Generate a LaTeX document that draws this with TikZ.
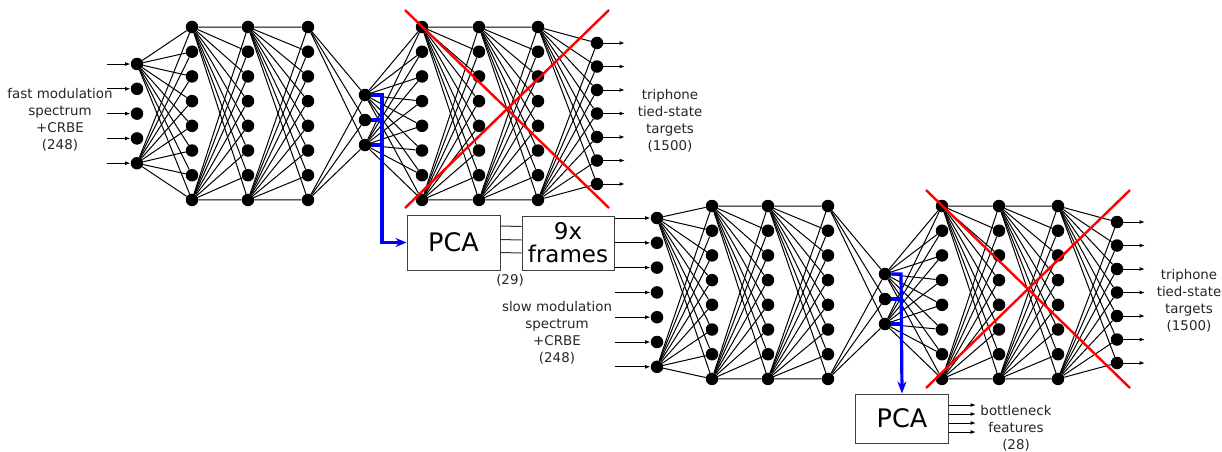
\documentclass[tikz,border=0pt]{standalone}
\usepackage{fontspec}
\setmainfont{DejaVu Sans}
\usetikzlibrary{arrows.meta}

% one network: prefix, number of inputs, y of the first input
\newcommand{\mlp}[3]{%
	\foreach \x/\n/\y/\d [count=\l] in {137/#2/#3/24.8, 192/8/27/24.7, 248/8/27/24.7, 308/8/27/24.7, 365/3/95/25, 422/8/27/24.7, 479/8/27/24.7, 538/8/27/24.7, 597/7/43/23.5}
		\foreach \i in {1,...,\n}
			\node[unit] (#1-\l-\i) at (\x,{\y+(\i-1)*\d}) {};
	% top and bottom unit of a layer feed every unit of the next one
	\foreach \l/\a/\b [evaluate=\l as \m using int(\l+1)] in {1/#2/8, 2/8/8, 3/8/8, 4/8/3, 5/3/8, 6/8/8, 7/8/8, 8/8/7}
		\foreach \j in {1,...,\b}
			\draw[link] (#1-\l-1) -- (#1-\m-\j) (#1-\l-\a) -- (#1-\m-\j);
	\foreach \i in {1,...,7}
		\draw[io] (#1-9-\i) -- ++(28,0);
}

\begin{document}
\begin{tikzpicture}[x=1pt,y=-1pt,
		unit/.style={circle,fill=black,inner sep=0pt,minimum size=12.5pt},
		link/.style={line width=1pt},
		io/.style={->,line width=1pt,>={Latex[length=5.5pt,width=4pt]}},
		box/.style={rectangle,draw=black!75,line width=1pt,inner sep=0pt,align=center,font=\fontsize{25.5}{24}\selectfont},
		lbl/.style={align=center,text=black!85,font=\fontsize{13.4}{17}\selectfont},
		tap/.style={blue,line width=3.2pt},
		cross/.style={red,line width=2.4pt}]
	\useasboundingbox (0,0) rectangle (1222,451);

	% fast modulation net
	\mlp{top}{5}{64}
	\foreach \i in {1,...,5}
		\draw[io,<-] (top-1-\i) -- ++(-30,0);
	\node[lbl] (fastin) at (60,120) {fast modulation\\spectrum\\+CRBE\\(248)};
	\node[lbl] (fastout) at (670,121) {triphone\\tied-state\\targets\\(1500)};
	\draw[cross] (405,10) -- (609,208) (609,10) -- (405,208);

	% pca and frame stacking
	\node[box,minimum width=93pt,minimum height=55pt] (pca) at (453.5,242.5) {PCA};
	\node[box,minimum width=92pt,minimum height=54pt,font=\fontsize{23}{23}\selectfont] (frames) at (568,243) {9x\\frames};
	\foreach \dy in {16.5,3,-10}
		\draw[link,black!80] ([yshift=\dy pt]pca.east) -- ([yshift=\dy pt]frames.west);
	\node[lbl] (dim) at (510,280) {(29)};

	\draw[tap,->,>={Stealth[length=11pt,width=9pt]}] (top-5-1) -- ++(17,0) |- (pca.west);
	\draw[tap] (top-5-2) -- ++(17,0);
	\draw[tap] (top-5-3) -- ++(17,0);

	% slow modulation net
	\begin{scope}[shift={(520,179)}]
		\mlp{bot}{7}{39}
	\end{scope}
	\foreach \i in {1,...,7}
		\draw[io,<-] (bot-1-\i) -- ++(-42,0);
	\node[lbl] (slowin) at (557,333) {slow modulation\\spectrum\\+CRBE\\(248)};
	\node[lbl] (slowout) at (1189,301) {triphone\\tied-state\\targets\\(1500)};
	\draw[cross] (926,190) -- (1130,388) (1130,190) -- (926,388);

	% bottleneck output
	\node[box,minimum width=93pt,minimum height=49pt] (bpca) at (902,418.5) {PCA};
	\draw[tap,->,>={Stealth[length=12pt,width=9pt]}] (bot-5-1) -- ++(16,0) -- (bpca.north);
	\draw[tap] (bot-5-2) -- ++(16,0);
	\draw[tap] (bot-5-3) -- ++(16,0);
	\foreach \dy in {13.5,4.5,-4.5,-13.5}
		\draw[io] ([yshift=\dy pt]bpca.east) -- ++(27,0);
	\node[lbl] (feat) at (1016,428) {bottleneck\\features\\(28)};
\end{tikzpicture}
\end{document}
